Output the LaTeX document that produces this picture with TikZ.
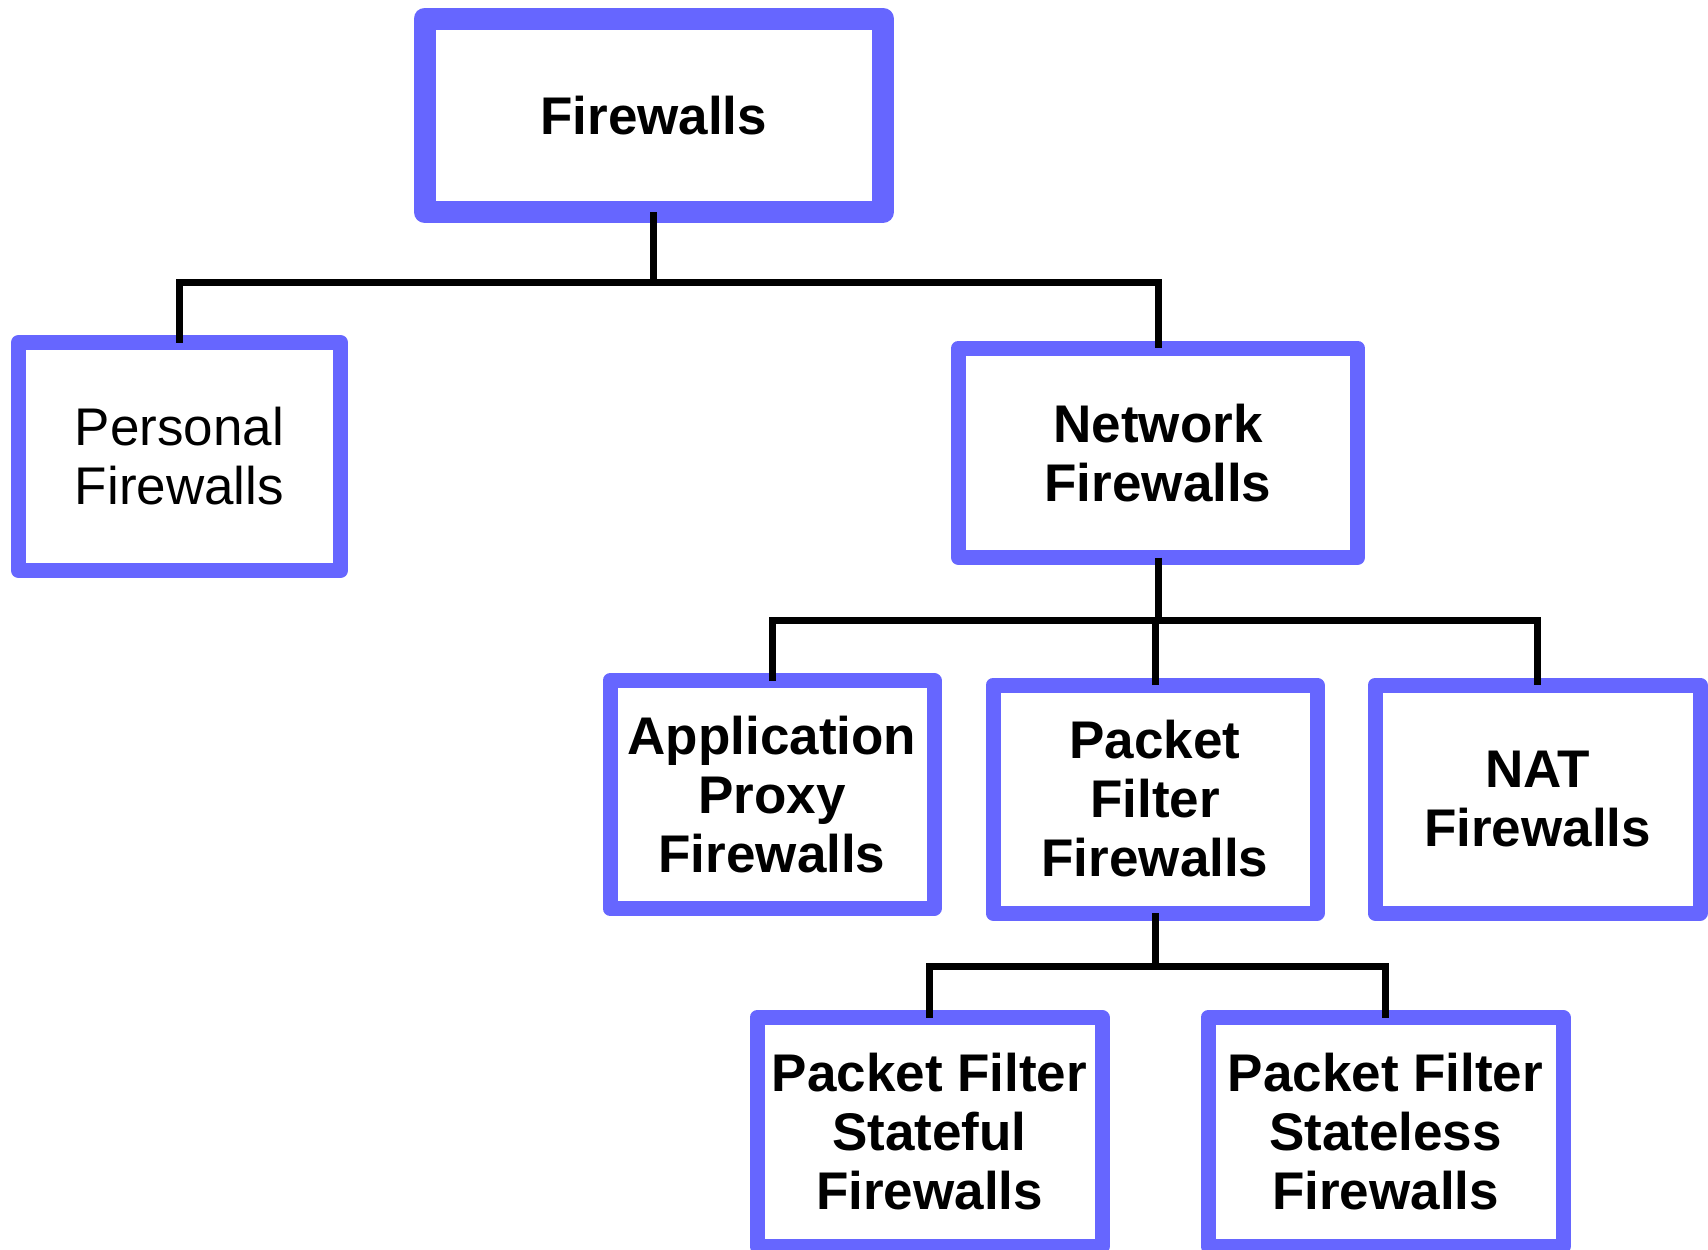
\documentclass[tikz,border=0pt]{standalone}
\usepackage{fontspec}
\setmainfont{Liberation Sans}
\definecolor{boxblue}{RGB}{102,102,255}
\begin{document}
\begin{tikzpicture}[x=0.5pt,y=-0.5pt,
  box/.style={draw=boxblue, line width=7.5pt, line join=round, fill=white,
    inner sep=0pt, outer sep=0pt, align=center,
    font=\fontsize{26.5}{29.5}\selectfont\bfseries},
  conn/.style={draw=black, line width=3.5pt}]
\useasboundingbox (0,0) rectangle (1708,1249);
\node[box, line width=11pt, minimum width=229.25pt, minimum height=96.75pt] (fw) at (653.75,115.25) {Firewalls};
\node[box, font=\fontsize{26.5}{29.5}\selectfont, minimum width=161pt, minimum height=114pt] (pers) at (179.5,456.5) {Personal\\Firewalls};
\node[box, minimum width=199.5pt, minimum height=104.75pt] (net) at (1158,452.75) {Network\\Firewalls};
\node[box, minimum width=162pt, minimum height=114pt] (app) at (772,794.5) {Application\\Proxy\\Firewalls};
\node[box, minimum width=162pt, minimum height=114pt] (pf) at (1155,799) {Packet\\Filter\\Firewalls};
\node[box, minimum width=162.5pt, minimum height=114pt] (nat) at (1537.5,799) {NAT\\Firewalls};
\node[box, minimum width=172.5pt, minimum height=114.25pt] (sf) at (929.5,1131.75) {Packet Filter\\Stateful\\Firewalls};
\node[box, minimum width=177.5pt, minimum height=114.25pt] (sl) at (1385.5,1131.75) {Packet Filter\\Stateless\\Firewalls};
\coordinate (j1) at (653.75,282);
\coordinate (j2) at (1158,620);
\coordinate (j3) at (1155,966);
\draw[conn] (fw.south) -- (j1);
\draw[conn] (pers.north) |- (j1) -| (net.north);
\draw[conn] (net.south) -- (j2);
\draw[conn] (app.north) |- (j2) -| (nat.north);
\draw[conn] (pf.north) -- (pf.north |- j2);
\draw[conn] (pf.south) -- (j3);
\draw[conn] (sf.north) |- (j3) -| (sl.north);
\end{tikzpicture}
\end{document}
